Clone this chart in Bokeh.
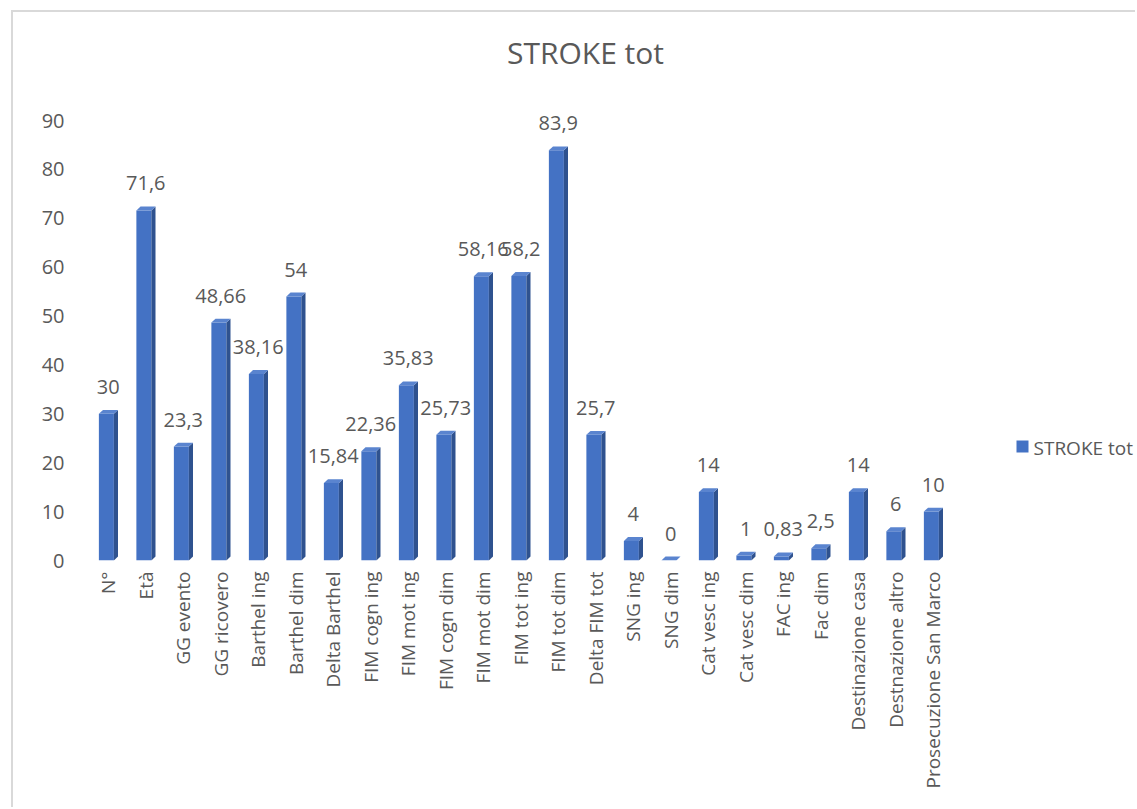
import numpy as np
from bokeh.plotting import figure
from bokeh.models import FixedTicker, ColumnDataSource, Label
from bokeh.core.properties import value
from bokeh.embed import file_html
from bokeh.resources import INLINE

categories = ["N°", "Età", "GG evento", "GG ricovero", "Barthel ing", "Barthel dim",
              "Delta Barthel", "FIM cogn ing", "FIM mot ing", "FIM cogn dim", "FIM mot dim",
              "FIM tot ing", "FIM tot dim", "Delta FIM tot", "SNG ing", "SNG dim",
              "Cat vesc ing", "Cat vesc dim", "FAC ing", "Fac dim", "Destinazione casa",
              "Destnazione altro", "Prosecuzione San Marco"]
values = [30, 71.6, 23.3, 48.66, 38.16, 54, 15.84, 22.36, 35.83, 25.73, 58.16,
          58.2, 83.9, 25.7, 4, 0, 14, 1, 0.83, 2.5, 14, 6, 10]
series_name = "STROKE tot"
y_ticks = [0, 10, 20, 30, 40, 50, 60, 70, 80, 90]

FONT = "Open Sans"
TXT = "#595959"
FRONT = "#4472C4"
SIDE = "#2F528F"
TOP = "#5A84CF"

# ---- layout (pixels) ----
W, H = 1124, 797          # canvas size
BL, BB = 76, 249          # left / bottom borders
BAND_PX = 37.5            # pixel width of one category band
AXIS_PX = 440             # pixel height of 0..90
frame_w = W - BL
frame_h = H - BB
x_end = -0.5 + frame_w / BAND_PX
y_end = 90 * frame_h / AXIS_PX
ORIG_X, ORIG_Y = 13 + BL, 12 + frame_h   # page position of (x=-0.5, y=0)


def px_x(px):
    return -0.5 + (px - ORIG_X) / BAND_PX


def px_y(py):
    return (ORIG_Y - py) * 90 / AXIS_PX


idx = np.arange(len(categories), dtype=float)
vals = np.array(values, dtype=float)
labels = [f"{v:g}".replace(".", ",") for v in values]

# 3D geometry (in data units)
fw = 0.40      # front face width
off = -0.05    # front face centre offset
dx = 0.11      # depth in x
dz = 0.8       # depth in y
x0 = idx + off - fw / 2
x1 = idx + off + fw / 2

side_xs = [[a, a, a + dx, a + dx] for a in x1]
side_ys = [[0, v, v + dz, dz] for v in vals]
top_xs = [[a, b, b + dx, a + dx] for a, b in zip(x0, x1)]
top_ys = [[v, v, v + dz, v + dz] for v in vals]

p = figure(width=W, height=H, output_backend="svg", toolbar_location=None,
           x_range=(-0.5, x_end), y_range=(0, y_end),
           min_border_left=BL, min_border_right=0, min_border_top=0,
           min_border_bottom=BB)
p.styles = {"border-top": "2px solid #d9d9d9", "border-left": "2px solid #d9d9d9",
            "margin-left": "11px", "margin-top": "10px"}
p.outline_line_color = None
p.grid.visible = False

src = ColumnDataSource(dict(x=idx + off, top=vals, xl=idx, lab=labels))
p.vbar(x="x", top="top", width=fw, bottom=0, source=src,
       fill_color=FRONT, line_color=None)
p.patches(side_xs, side_ys, fill_color=SIDE, line_color=None)
p.patches(top_xs, top_ys, fill_color=TOP, line_color=None)

p.text(x="xl", y="top", text="lab", source=src, text_align="center",
       text_baseline="bottom", y_offset=-20, text_font=value(FONT),
       text_font_size="20px", text_color=TXT)

# title
p.add_layout(Label(x=px_x(585), y=px_y(52), text=series_name, text_align="center",
                   text_baseline="middle", text_font=FONT, text_font_size="30px",
                   text_color=TXT))

# legend (key + label)
p.scatter(x=[px_x(1022)], y=[px_y(446)], marker="square", size=12,
          fill_color=FRONT, line_color=None)
p.add_layout(Label(x=px_x(1033), y=px_y(447), text=series_name, text_align="left",
                   text_baseline="middle", text_font=FONT, text_font_size="19px",
                   text_color=TXT))

p.yaxis.ticker = FixedTicker(ticks=y_ticks)
p.xaxis.ticker = FixedTicker(ticks=list(idx))
p.xaxis.major_label_overrides = {float(i): c for i, c in enumerate(categories)}
p.xaxis.major_label_orientation = np.pi / 2
for ax in (p.xaxis, p.yaxis):
    ax.axis_line_color = None
    ax.major_tick_line_color = None
    ax.minor_tick_line_color = None
    ax.major_label_text_font = FONT
    ax.major_label_text_color = TXT
p.yaxis.major_label_text_font_size = "20px"
p.xaxis.major_label_text_font_size = "19px"
p.yaxis.major_label_standoff = 19
p.xaxis.major_label_standoff = 5

open("out.html", "w").write(file_html(p, INLINE))
